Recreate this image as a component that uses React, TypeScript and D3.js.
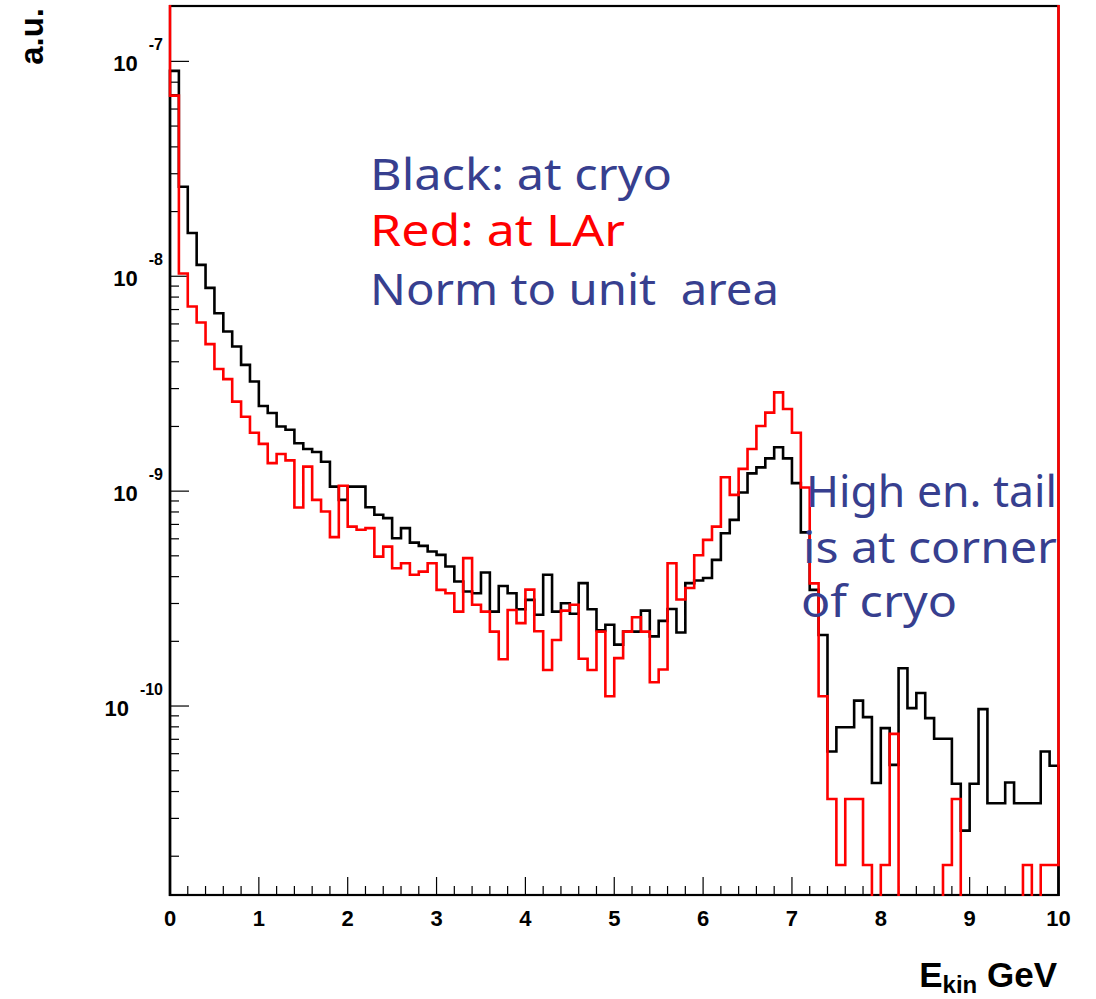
import React from 'react';
import * as d3 from 'd3';

// 100 bins of width 0.1 GeV from 0 to 10 GeV (values in a.u., normalised to unit area)
const blackAtCryo: number[] = [
  9.03e-8, 2.61e-8, 1.59e-8, 1.13e-8, 8.83e-9, 6.73e-9, 5.53e-9, 4.71e-9, 3.87e-9, 3.24e-9,
  2.49e-9, 2.31e-9, 2.0e-9, 1.93e-9, 1.67e-9, 1.57e-9, 1.52e-9, 1.37e-9, 1.05e-9, 9.11e-10,
  1.05e-9, 1.05e-9, 8.42e-10, 7.76e-10, 7.49e-10, 6.04e-10, 6.73e-10, 5.76e-10, 5.56e-10, 5.24e-10,
  5.05e-10, 4.46e-10, 3.8e-10, 3.41e-10, 3.35e-10, 4.18e-10, 2.75e-10, 3.62e-10, 3.35e-10, 2.82e-10,
  3.12e-10, 2.66e-10, 4.08e-10, 2.75e-10, 3.01e-10, 2.69e-10, 3.73e-10, 2.82e-10, 2.25e-10, 2.39e-10,
  1.93e-10, 2.22e-10, 2.22e-10, 2.78e-10, 2.11e-10, 2.49e-10, 2.83e-10, 2.2e-10, 3.73e-10, 3.84e-10,
  3.94e-10, 4.79e-10, 6.37e-10, 7.35e-10, 9.85e-10, 1.21e-9, 1.29e-9, 1.42e-9, 1.6e-9, 1.42e-9,
  1.09e-9, 6.43e-10, 3.47e-10, 2.14e-10, 6.14e-11, 7.97e-11, 7.97e-11, 1.06e-10, 8.88e-11, 4.38e-11,
  7.89e-11, 5.32e-11, 1.5e-10, 9.78e-11, 1.15e-10, 8.78e-11, 7.04e-11, 7.04e-11, 4.35e-11, 2.63e-11,
  4.35e-11, 9.67e-11, 3.53e-11, 3.53e-11, 4.41e-11, 3.53e-11, 3.53e-11, 3.53e-11, 6.14e-11, 5.27e-11,
];

const redAtLAr: number[] = [
  6.93e-8, 1.03e-8, 7.23e-9, 6.09e-9, 4.83e-9, 3.7e-9, 3.32e-9, 2.61e-9, 2.22e-9, 1.87e-9,
  1.66e-9, 1.35e-9, 1.49e-9, 1.39e-9, 8.39e-10, 1.3e-9, 9.11e-10, 8.04e-10, 6.11e-10, 1.06e-9,
  6.84e-10, 6.61e-10, 6.73e-10, 4.96e-10, 5.52e-10, 4.38e-10, 4.62e-10, 4.08e-10, 4.22e-10, 4.62e-10,
  3.47e-10, 3.35e-10, 2.75e-10, 4.88e-10, 2.96e-10, 2.75e-10, 2.22e-10, 1.65e-10, 2.8e-10, 2.43e-10,
  3.48e-10, 2.23e-10, 1.47e-10, 2.03e-10, 2.78e-10, 2.96e-10, 1.66e-10, 1.47e-10, 2.22e-10, 1.11e-10,
  1.67e-10, 2.22e-10, 2.59e-10, 2.22e-10, 1.29e-10, 1.48e-10, 4.62e-10, 3.13e-10, 3.54e-10, 5.03e-10,
  5.93e-10, 6.84e-10, 1.16e-9, 9.61e-10, 1.27e-9, 1.57e-9, 2.01e-9, 2.32e-9, 2.88e-9, 2.41e-9,
  1.87e-9, 1.04e-9, 3.72e-10, 1.11e-10, 3.69e-11, 1.82e-11, 3.69e-11, 3.69e-11, 1.82e-11, 0,
  1.82e-11, 7.42e-11, 0, 0, 0, 0, 0, 1.82e-11, 3.69e-11, 0,
  0, 0, 0, 0, 0, 0, 1.82e-11, 0, 1.82e-11, 1.82e-11,
];

const xTickLabels: string[] = ['0', '1', '2', '3', '4', '5', '6', '7', '8', '9', '10'];
const yDecadeExponents: number[] = [-7, -8, -9, -10];

const textLines = [
  { text: 'Black: at cryo', color: '#373f8f', x: 370, y: 190, w: 302 },
  { text: 'Red: at LAr', color: '#ff0000', x: 370, y: 246, w: 255 },
  { text: 'Norm to unit  area', color: '#373f8f', x: 370, y: 305, w: 409 },
  { text: 'High en. tail', color: '#373f8f', x: 806, y: 507, w: 251 },
  { text: 'is at corner', color: '#373f8f', x: 803, y: 563, w: 254 },
  { text: 'of cryo', color: '#373f8f', x: 801, y: 617, w: 156 },
];

export default function App() {
  const W = 1096;
  const H = 999;
  const left = 170;
  const right = 1058.5;
  const top = 6;
  const bottom = 895;

  const x = d3.scaleLinear().domain([0, 10]).range([left, right]);
  const y = d3.scaleLog().domain([1.32e-11, 1.81e-7]).range([bottom, top]);

  const line = d3.line<[number, number]>();
  const nBins = 100;
  const histPath = (vals: number[], startY: number, endY: number) => {
    const pts: [number, number][] = [[x(0), startY]];
    vals.forEach((v, i) => {
      const yy = v > 0 ? y(v) : bottom + 8;
      pts.push([x((i * 10) / nBins), yy]);
      pts.push([x(((i + 1) * 10) / nBins), yy]);
    });
    pts.push([x(10), endY]);
    return line(pts) || '';
  };

  const font = "'Liberation Sans', Arial, Helvetica, sans-serif";

  const xMajor = d3.range(0, 11).map((d) => d);
  const xMinor = d3.range(0, 50).map((i) => i * 0.2).filter((v) => Math.abs(v - Math.round(v)) > 1e-6);

  const yMinor: number[] = [];
  for (let e = -11; e <= -7; e++) {
    for (let m = 2; m <= 9; m++) {
      const v = m * Math.pow(10, e);
      if (v > 1.32e-11 && v < 1.81e-7) yMinor.push(v);
    }
  }

  return (
    <svg width={W} height={H} style={{ position: 'absolute', left: 0, top: 0, background: '#fff' }}>
      <defs>
        <clipPath id="plotClip">
          <rect x={left - 3} y={top - 1} width={right - left + 6} height={bottom - top + 2} />
        </clipPath>
      </defs>
      <rect x={0} y={0} width={W} height={H} fill="#fff" />

      <g stroke="#000" strokeWidth={1.2}>
        {xMajor.map((v) => (
          <line key={'xM' + v} x1={x(v)} x2={x(v)} y1={bottom} y2={bottom - 18} />
        ))}
        {xMinor.map((v, i) => (
          <line key={'xm' + i} x1={x(v)} x2={x(v)} y1={bottom} y2={bottom - 9} />
        ))}
        {yDecadeExponents.map((e) => (
          <line key={'yM' + e} x1={left} x2={left + 19} y1={y(Math.pow(10, e))} y2={y(Math.pow(10, e))} />
        ))}
        {yMinor.map((v, i) => (
          <line key={'ym' + i} x1={left} x2={left + 9} y1={y(v)} y2={y(v)} />
        ))}
      </g>

      <rect x={left} y={top} width={right - left} height={bottom - top} fill="none" stroke="#000" strokeWidth={2.2} />

      <g clipPath="url(#plotClip)" fill="none" strokeWidth={2.6} strokeLinejoin="miter">
        <path d={histPath(blackAtCryo, bottom + 8, bottom + 8)} stroke="#000" />
        <path d={histPath(redAtLAr, top - 6, top - 6)} stroke="#ff0000" />
      </g>

      <g fontFamily={font} fontWeight="bold" fontSize={22} textAnchor="middle" fill="#000">
        {xTickLabels.map((t, i) => (
          <text key={'xl' + t} x={x(i)} y={926}>
            {t}
          </text>
        ))}
      </g>

      <g fontFamily={font} fontWeight="bold" fill="#000">
        {yDecadeExponents.map((e) => (
          <text key={'yl' + e} x={163} y={y(Math.pow(10, e)) + 9.5} textAnchor="end" fontSize={22}>
            10
            <tspan dx={11} dy={-21} fontSize={16}>
              {String(e)}
            </tspan>
          </text>
        ))}
      </g>

      <text
        x={43}
        y={8}
        transform="rotate(-90 43 8)"
        textAnchor="end"
        fontFamily={font}
        fontWeight="bold"
        fontSize={33}
        fill="#000"
      >
        a.u.
      </text>
      <text x={1057} y={987} textAnchor="end" fontFamily={font} fontWeight="bold" fontSize={35} fill="#000" style={{ whiteSpace: 'pre' }}>
        E
        <tspan fontSize={24} dy={6}>
          kin
        </tspan>
        <tspan fontSize={35} dy={-6}>
          {' GeV'}
        </tspan>
      </text>

      <g fontFamily="'Noto Sans', 'DejaVu Sans', sans-serif" fontSize={44}>
        {textLines.map((l) => (
          <text
            key={l.text}
            x={l.x}
            y={l.y}
            fill={l.color}
            textLength={l.w}
            lengthAdjust="spacingAndGlyphs"
            style={{ whiteSpace: 'pre' }}
          >
            {l.text}
          </text>
        ))}
      </g>
    </svg>
  );
}
